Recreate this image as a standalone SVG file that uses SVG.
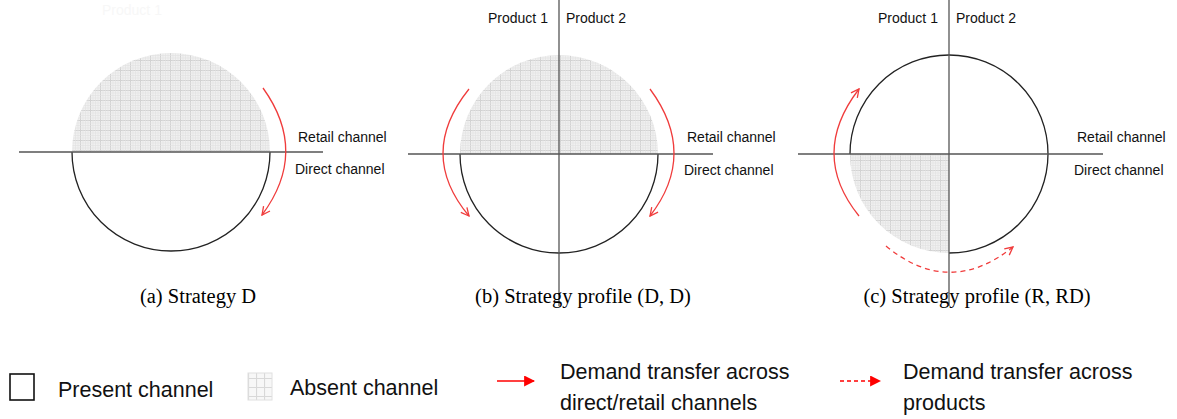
<svg xmlns="http://www.w3.org/2000/svg" width="1177" height="419" viewBox="0 0 1177 419">
<style>
.axis{stroke:#555;stroke-width:1.3;fill:none}
.arc{stroke:#222;stroke-width:1.3;fill:none}
.hatch{fill:url(#grid)}
.red{stroke:#f03c3c;stroke-width:1.3;fill:none}
.lbl{font-family:"Liberation Sans",Arial,sans-serif;font-size:14px;fill:#111}
.ghost{fill:#f7f7f7}
.cap{font-family:"Liberation Serif","Times New Roman",serif;font-size:20.5px;fill:#000;text-anchor:middle}
.leg{font-family:"Liberation Sans",Arial,sans-serif;font-size:21.5px;fill:#111}
</style>
<defs>
<pattern id="grid" width="10" height="10" patternUnits="userSpaceOnUse">
<rect width="10" height="10" fill="#f1f1f1"/>
<path d="M0,0.5H10M0.5,0V10" stroke="#d2d2d2" stroke-width="1"/>
<path d="M0,3H10M0,5.5H10M0,8H10M3,0V10M5.5,0V10M8,0V10" stroke="#e3e3e3" stroke-width="0.7"/>
</pattern>
<pattern id="gridL" width="8" height="9" patternUnits="userSpaceOnUse">
<rect width="8" height="9" fill="#f7f7f7"/>
<path d="M0,0.5H8M0.5,0V9" stroke="#d8d8d8" stroke-width="1.2"/>
</pattern>
<marker id="chev" viewBox="0 0 10 10" refX="9" refY="5" markerWidth="10" markerHeight="10" markerUnits="userSpaceOnUse" orient="auto">
<path d="M1,1 L9,5 L1,9" fill="none" stroke="#f03c3c" stroke-width="1.3"/>
</marker>
<marker id="tri" viewBox="0 0 10 10" refX="9" refY="5" markerWidth="11" markerHeight="11" markerUnits="userSpaceOnUse" orient="auto">
<path d="M0,0 L10,5 L0,10 Z" fill="#ff0000"/>
</marker>
</defs>

<!-- Panel (a) -->
<g id="panel-a">
<text x="102" y="15" class="lbl ghost">Product 1</text>
<path class="hatch" d="M72,152 A99,99 0 0 1 270,152 Z"/>
<path class="arc" d="M72,152 A99,99 0 0 0 270,152"/>
<line class="axis" x1="19" y1="152" x2="323" y2="152"/>
<text x="298" y="142" class="lbl">Retail channel</text>
<text x="295" y="174" class="lbl">Direct channel</text>
<text x="198" y="303" class="cap">(a) Strategy D</text>
</g>

<!-- Panel (b) -->
<g id="panel-b">
<path class="hatch" d="M460,154 A99,99 0 0 1 658,154 Z"/>
<path class="arc" d="M460,154 A99,99 0 0 0 658,154"/>
<line class="axis" x1="408" y1="154" x2="713" y2="154"/>
<line class="axis" x1="559" y1="0" x2="559" y2="306"/>
<text x="488" y="23" class="lbl">Product 1</text>
<text x="566" y="23" class="lbl">Product 2</text>
<text x="687" y="142" class="lbl">Retail channel</text>
<text x="684" y="175" class="lbl">Direct channel</text>
<text x="583" y="303" class="cap">(b) Strategy profile (D, D)</text>
</g>

<!-- Panel (c) -->
<g id="panel-c">
<path class="hatch" d="M850,154 A99,99 0 0 0 949,253 L949,154 Z"/>
<path class="arc" d="M949,253 A99,99 0 1 0 850,154"/>
<line class="axis" x1="798" y1="154" x2="1103" y2="154"/>
<line class="axis" x1="949" y1="0" x2="949" y2="306"/>
<text x="878" y="23" class="lbl">Product 1</text>
<text x="956" y="23" class="lbl">Product 2</text>
<text x="1077" y="142" class="lbl">Retail channel</text>
<text x="1074" y="175" class="lbl">Direct channel</text>
<text x="977" y="303" class="cap">(c) Strategy profile (R, RD)</text>
</g>

<!-- Connectors -->
<g id="connectors">
<path class="red" d="M263,88 Q309,152 262,215" marker-end="url(#chev)"/>
<path class="red" d="M469,89 Q417,154 469,216" marker-end="url(#chev)"/>
<path class="red" d="M650,89 Q698,154 650,216" marker-end="url(#chev)"/>
<path class="red" d="M859,216 Q809,154 859,89" marker-end="url(#chev)"/>
<path class="red" d="M886,246 Q949,298 1013,247" stroke-dasharray="5,4" marker-end="url(#chev)"/>
</g>

<!-- Legend -->
<g id="legend">
<rect x="10" y="374" width="24" height="26" fill="#fff" stroke="#111" stroke-width="1.6"/>
<text x="58" y="397" class="leg">Present channel</text>
<rect x="248" y="373" width="24" height="27" fill="url(#gridL)" stroke="#e0e0e0" stroke-width="1"/>
<text x="290" y="395" class="leg">Absent channel</text>
<line x1="497" y1="381" x2="534" y2="381" stroke="#ff0000" stroke-width="1.5" marker-end="url(#tri)"/>
<text x="560" y="379" class="leg">Demand transfer across</text>
<text x="560" y="410" class="leg">direct/retail channels</text>
<line x1="840" y1="381" x2="880" y2="381" stroke="#ff0000" stroke-width="1.5" stroke-dasharray="4,3" marker-end="url(#tri)"/>
<text x="903" y="379" class="leg">Demand transfer across</text>
<text x="903" y="410" class="leg">products</text>
</g>
</svg>
